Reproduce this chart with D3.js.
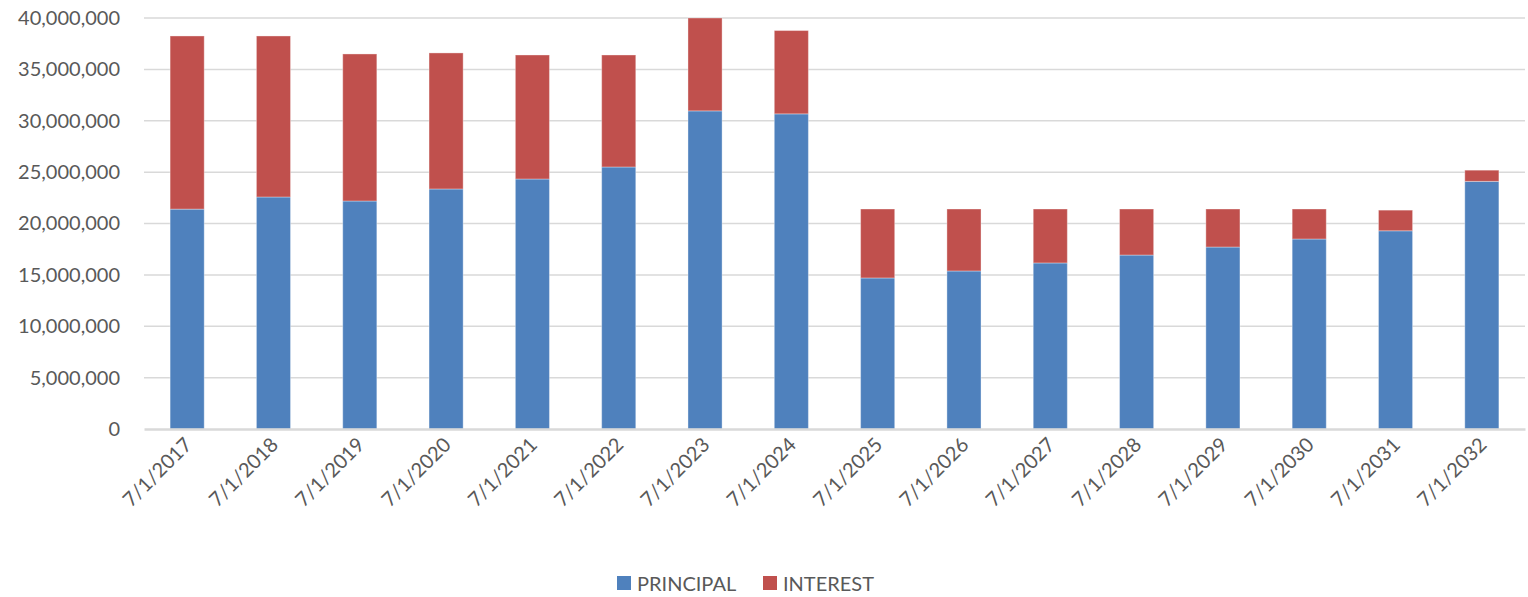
<!DOCTYPE html>
<head>
  <meta charset="utf-8">
  <script src="https://d3js.org/d3.v7.min.js"></script>
  <style>
    body { margin: 0; background: #fff; }
    .tick text { fill: #595959; font: 20px Lato, sans-serif; }
    .legend text { fill: #595959; font: 20px Lato, sans-serif; }
  </style>
</head>
<body>
  <script>
    // payment dates and amounts
    var dates = ["7/1/2017", "7/1/2018", "7/1/2019", "7/1/2020", "7/1/2021", "7/1/2022", "7/1/2023", "7/1/2024",
                 "7/1/2025", "7/1/2026", "7/1/2027", "7/1/2028", "7/1/2029", "7/1/2030", "7/1/2031", "7/1/2032"];
    var principal = [21400000, 22580000, 22190000, 23360000, 24330000, 25500000, 30960000, 30670000,
                     14700000, 15380000, 16160000, 16930000, 17710000, 18490000, 19290000, 24100000];
    var interest  = [16850000, 15670000, 14310000, 13240000, 12070000, 10900000, 9040000, 8110000,
                     6710000, 6030000, 5250000, 4480000, 3700000, 2920000, 2010000, 1090000];
    var yTicks = [0, 5000000, 10000000, 15000000, 20000000, 25000000, 30000000, 35000000, 40000000];
    var seriesNames = ["PRINCIPAL", "INTEREST"];
    var colors = ["#4f81bd", "#c0504d"];

    var margin = { top: 18, right: 3, bottom: 168, left: 144 };
    var W = 1528, H = 597;
    var width = W - margin.left - margin.right;
    var height = H - margin.top - margin.bottom;

    var svg = d3.select("body").append("svg")
        .attr("width", W)
        .attr("height", H);
    var g = svg.append("g")
        .attr("transform", "translate(" + margin.left + "," + margin.top + ")");

    var x = d3.scaleBand().domain(dates).range([0, width]).paddingInner(0.605).paddingOuter(0.3025);
    var y = d3.scaleLinear().domain([0, 40000000]).range([height, 0]);

    // gridlines
    g.selectAll(".grid").data(yTicks.slice(1)).enter().append("line")
        .attr("x1", 0).attr("x2", width)
        .attr("y1", function(d) { return y(d); }).attr("y2", function(d) { return y(d); })
        .attr("stroke", "#d9d9d9").attr("stroke-width", 1.5);

    // y axis labels
    var yAxis = d3.axisLeft(y).tickValues(yTicks).tickSize(0).tickPadding(24)
        .tickFormat(d3.format(","));
    g.append("g").attr("class", "y axis").call(yAxis)
      .call(function(s) { s.select(".domain").remove(); });

    // stacked bars
    var rows = dates.map(function(d, i) { return { date: d, PRINCIPAL: principal[i], INTEREST: interest[i] }; });
    var stack = d3.stack().keys(seriesNames)(rows);

    g.selectAll(".layer").data(stack).enter().append("g")
        .attr("fill", function(d, i) { return colors[i]; })
      .selectAll("rect").data(function(d) { return d; }).enter().append("rect")
        .attr("x", function(d) { return x(d.data.date); })
        .attr("width", x.bandwidth())
        .attr("y", function(d) { return y(d[1]); })
        .attr("height", function(d) { return y(d[0]) - y(d[1]); })
        .attr("stroke", "#ffffff").attr("stroke-opacity", 0.35).attr("stroke-width", 1);

    // x axis
    var xAxis = d3.axisBottom(x).tickSize(0).tickPadding(0);
    var xg = g.append("g").attr("class", "x axis")
        .attr("transform", "translate(0," + height + ")")
        .call(xAxis);
    xg.select(".domain").attr("stroke", "#d9d9d9").attr("stroke-width", 2.5);
    xg.selectAll(".tick text")
        .attr("text-anchor", "end")
        .attr("dy", null)
        .attr("transform", "translate(6,17) rotate(-45)");

    // legend
    var legend = svg.append("g").attr("class", "legend");
    var lx = [617, 763];
    seriesNames.forEach(function(name, i) {
      legend.append("rect").attr("x", lx[i]).attr("y", 576).attr("width", 14).attr("height", 14)
          .attr("fill", colors[i]);
      legend.append("text").attr("x", lx[i] + 20).attr("y", 591).text(name);
    });
  </script>
</body>
